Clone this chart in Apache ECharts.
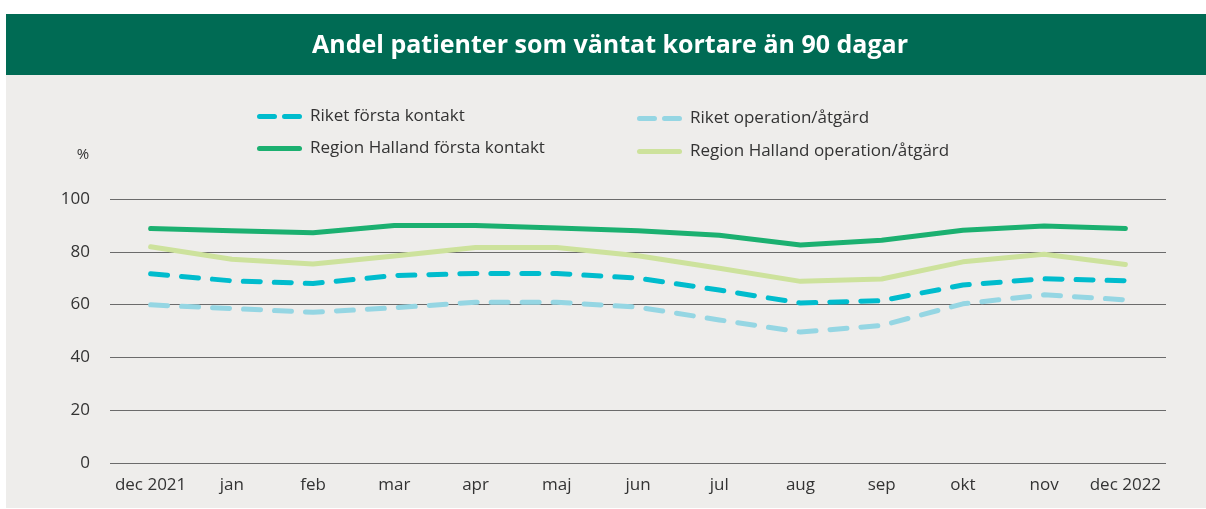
<!DOCTYPE html>
<html>
<head>
<meta charset="utf-8">
<script src="https://cdn.jsdelivr.net/npm/echarts@6/dist/echarts.min.js"></script>
<style>
html,body{margin:0;padding:0;background:#fff;}
#c{width:1206px;height:509px;}
</style>
</head>
<body>
<div id="c"></div>
<script>
const categories = ['dec 2021','jan','feb','mar','apr','maj','jun','jul','aug','sep','okt','nov','dec 2022'];
const yTicks = [0, 20, 40, 60, 80, 100];
const riketForsta = [71.7, 69, 68, 71, 71.8, 71.8, 70, 65.5, 60.6, 61.5, 67.4, 69.8, 69];
const hallandForsta = [88.8, 88, 87.2, 90, 90, 89, 88, 86.3, 82.6, 84.4, 88.2, 89.8, 88.8];
const riketOperation = [59.9, 58.5, 57.1, 58.8, 60.9, 60.9, 59, 54.2, 49.6, 52.1, 60.3, 63.7, 61.8];
const hallandOperation = [81.9, 77.2, 75.4, 78.4, 81.6, 81.6, 78.5, 73.8, 68.8, 69.7, 76.2, 79.1, 75.2];

const FONT = '"Open Sans", Lato, sans-serif';
const DASH_ICON = 'path://M2.5,0 H17.5 A2.5,2.5 0 0 1 17.5,5 H2.5 A2.5,2.5 0 0 1 2.5,0 Z M27.5,0 H42.5 A2.5,2.5 0 0 1 42.5,5 H27.5 A2.5,2.5 0 0 1 27.5,0 Z';
const SOLID_ICON = 'path://M2.5,0 H42.5 A2.5,2.5 0 0 1 42.5,5 H2.5 A2.5,2.5 0 0 1 2.5,0 Z';

const chart = echarts.init(document.getElementById('c'), null, {renderer: 'canvas'});

function lineSeries(name, data, color, dashed) {
  return {
    name: name,
    type: 'line',
    data: data,
    symbol: 'none',
    smooth: false,
    lineStyle: {
      color: color,
      width: 5,
      type: dashed ? [17, 14] : 'solid',
      cap: 'round',
      join: 'round'
    },
    itemStyle: {color: color},
    emphasis: {disabled: true}
  };
}

const legendCommon = {
  orient: 'vertical',
  padding: 0,
  itemWidth: 45, itemHeight: 5,
  itemStyle: {borderWidth: 0},
  textStyle: {color: '#333333', fontSize: 17, fontFamily: FONT, padding: [0, 0, 0, 3]},
  selectedMode: false
};

chart.setOption({
  animation: false,
  backgroundColor: '#ffffff',
  graphic: [
    {type: 'rect', left: 6, top: 75, shape: {width: 1200, height: 433}, style: {fill: '#EEEDEB'}, z: -10},
    {type: 'rect', left: 6, top: 14, shape: {width: 1200, height: 61}, style: {fill: '#006B54'}, z: -10},
    {type: 'text', x: 610, y: 46, style: {text: 'Andel patienter som väntat kortare än 90 dagar', fill: '#ffffff', font: 'bold 25px ' + FONT, align: 'center', verticalAlign: 'middle'}},
    {type: 'text', x: 83, y: 155, style: {text: '%', fill: '#333333', font: '15px ' + FONT, align: 'center', verticalAlign: 'middle'}}
  ],
  legend: [
    Object.assign({
      data: [
        {name: 'Riket första kontakt', icon: DASH_ICON},
        {name: 'Region Halland första kontakt', icon: SOLID_ICON}
      ],
      left: 257, top: 108, itemGap: 15
    }, legendCommon),
    Object.assign({
      data: [
        {name: 'Riket operation/åtgärd', icon: DASH_ICON},
        {name: 'Region Halland operation/åtgärd', icon: SOLID_ICON}
      ],
      left: 637, top: 110, itemGap: 16
    }, legendCommon)
  ],
  grid: {left: 110, right: 40, top: 199, bottom: 46, containLabel: false, outerBoundsMode: 'none'},
  xAxis: {
    type: 'category',
    data: categories,
    boundaryGap: true,
    axisLine: {show: false},
    axisTick: {show: false},
    axisLabel: {color: '#333333', fontSize: 17, fontFamily: FONT, margin: 14, interval: 0}
  },
  yAxis: {
    type: 'value',
    min: yTicks[0],
    max: yTicks[yTicks.length - 1],
    interval: yTicks[1] - yTicks[0],
    axisLine: {show: false},
    axisTick: {show: false},
    axisLabel: {color: '#333333', fontSize: 17, fontFamily: FONT, margin: 20},
    splitLine: {show: true, lineStyle: {color: '#6b6b6b', width: 1}}
  },
  series: [
    lineSeries('Riket operation/åtgärd', riketOperation, '#95D6E3', true),
    lineSeries('Region Halland operation/åtgärd', hallandOperation, '#CDE29C', false),
    lineSeries('Riket första kontakt', riketForsta, '#00BCCD', true),
    lineSeries('Region Halland första kontakt', hallandForsta, '#1BB070', false)
  ]
});
</script>
</body>
</html>
